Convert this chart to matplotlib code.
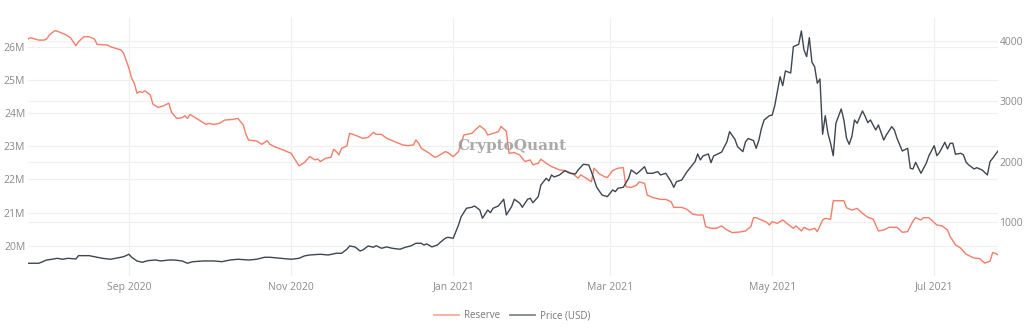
import matplotlib
matplotlib.use("Agg")
import matplotlib.pyplot as plt
from matplotlib.lines import Line2D
import pandas as pd

# ---------------- data ----------------
base_date = "2020-09-01"

reserve_days = [-38, -37, -34, -32, -31, -30, -28, -27, -25, -24,
                -22, -21, -20, -19, -17, -15, -13, -12, -8, -7,
                -3, -2, 0, 1, 2, 3, 4, 5, 6, 8,
                9, 11, 13, 15, 16, 18, 20, 21, 22, 23,
                25, 29, 30, 32, 34, 36, 39, 41, 43, 44,
                45, 48, 50, 52, 53, 55, 58, 61, 63, 64,
                66, 68, 70, 71, 72, 74, 76, 77, 78, 79,
                80, 82, 83, 85, 88, 90, 92, 93, 95, 97,
                100, 103, 105, 107, 108, 109, 110, 113, 115, 116,
                119, 120, 122, 124, 126, 129, 132, 134, 135, 137,
                139, 140, 142, 143, 145, 147, 149, 151, 152, 154,
                155, 157, 159, 162, 164, 167, 169, 170, 172, 174,
                175, 177, 179, 180, 182, 184, 186, 187, 189, 191,
                192, 194, 195, 197, 200, 202, 204, 205, 208, 210,
                212, 214, 216, 217, 219, 221, 223, 225, 227, 230,
                232, 234, 235, 236, 238, 240, 241, 242, 244, 246,
                248, 250, 251, 253, 254, 256, 258, 259, 261, 262,
                264, 265, 267, 269, 270, 272, 274, 276, 278, 280,
                282, 284, 286, 289, 291, 293, 295, 296, 298, 299,
                301, 304, 306, 308, 309, 311, 313, 315, 318, 320,
                322, 324, 325, 326, 327]

reserve_millions = [26.23, 26.27, 26.20, 26.20, 26.23, 26.35, 26.48, 26.47, 26.40, 26.37,
                    26.27, 26.15, 26.03, 26.15, 26.30, 26.30, 26.23, 26.07, 26.05, 26.00,
                    25.90, 25.80, 25.35, 25.05, 24.90, 24.60, 24.65, 24.62, 24.67, 24.55,
                    24.27, 24.17, 24.22, 24.30, 24.02, 23.84, 23.86, 23.92, 23.84, 23.96,
                    23.86, 23.66, 23.69, 23.66, 23.69, 23.79, 23.81, 23.84, 23.64, 23.36,
                    23.19, 23.16, 23.06, 23.17, 23.06, 22.98, 22.89, 22.79, 22.54, 22.41,
                    22.51, 22.69, 22.59, 22.62, 22.54, 22.64, 22.67, 22.91, 22.84, 22.74,
                    22.94, 23.01, 23.39, 23.34, 23.24, 23.27, 23.42, 23.36, 23.36, 23.24,
                    23.14, 23.04, 23.02, 23.04, 23.19, 23.09, 22.94, 22.79, 22.67, 22.69,
                    22.84, 22.81, 22.69, 22.84, 23.34, 23.39, 23.62, 23.49, 23.34, 23.39,
                    23.44, 23.60, 23.45, 22.79, 22.81, 22.74, 22.54, 22.59, 22.44, 22.49,
                    22.61, 22.49, 22.39, 22.29, 22.27, 22.17, 22.04, 22.14, 22.04, 21.93,
                    22.34, 22.17, 22.08, 22.06, 22.27, 22.34, 22.36, 21.78, 21.76, 21.83,
                    21.93, 21.88, 21.53, 21.46, 21.40, 21.40, 21.33, 21.16, 21.16, 21.10,
                    20.96, 20.93, 20.93, 20.58, 20.53, 20.53, 20.60, 20.48, 20.40, 20.42,
                    20.45, 20.58, 20.85, 20.85, 20.78, 20.71, 20.63, 20.73, 20.68, 20.78,
                    20.65, 20.53, 20.60, 20.45, 20.56, 20.48, 20.53, 20.43, 20.78, 20.83,
                    20.80, 21.36, 21.36, 21.36, 21.15, 21.08, 21.13, 20.98, 20.86, 20.81,
                    20.45, 20.48, 20.56, 20.56, 20.41, 20.43, 20.75, 20.85, 20.78, 20.85,
                    20.85, 20.63, 20.60, 20.48, 20.28, 20.03, 19.93, 19.75, 19.63, 19.62,
                    19.48, 19.54, 19.80, 19.78, 19.73]

price_days = [-38, -37, -34, -33, -31, -29, -27, -25, -23, -20,
              -19, -15, -12, -10, -7, -5, -2, 0, 1, 3,
              5, 7, 10, 12, 15, 17, 20, 22, 24, 28,
              32, 35, 38, 41, 45, 48, 51, 53, 57, 61,
              64, 66, 68, 72, 75, 78, 80, 82, 83, 85,
              87, 88, 90, 92, 93, 95, 97, 99, 102, 104,
              106, 108, 110, 111, 112, 114, 116, 117, 119, 120,
              122, 124, 125, 127, 129, 130, 132, 133, 135, 136,
              137, 139, 141, 142, 144, 145, 147, 148, 150, 151,
              152, 154, 155, 157, 158, 159, 160, 162, 164, 166,
              168, 169, 171, 173, 174, 175, 176, 178, 180, 182,
              183, 184, 186, 188, 189, 191, 192, 194, 195, 197,
              199, 200, 202, 204, 205, 206, 208, 210, 211, 213,
              214, 215, 216, 218, 219, 220, 222, 223, 225, 226,
              228, 229, 231, 232, 233, 235, 236, 237, 238, 239,
              241, 242, 243, 244, 245, 246, 247, 249, 250, 252,
              253, 254, 255, 256, 257, 258, 259, 260, 261, 262,
              263, 264, 265, 266, 268, 269, 270, 271, 272, 273,
              274, 276, 277, 278, 279, 281, 282, 284, 285, 287,
              288, 289, 291, 293, 294, 295, 296, 298, 300, 301,
              303, 304, 305, 307, 308, 309, 310, 311, 313, 314,
              315, 316, 318, 319, 321, 323, 324, 325, 327]

price_usd = [319, 319, 319, 335, 373, 385, 401, 385, 401, 390,
             445, 445, 418, 401, 385, 401, 428, 468, 418, 357,
             335, 362, 373, 357, 373, 373, 357, 319, 345, 357,
             357, 345, 373, 385, 373, 385, 418, 418, 401, 385,
             401, 440, 456, 468, 456, 484, 484, 551, 605, 590,
             522, 539, 605, 584, 610, 567, 590, 567, 551, 584,
             605, 650, 650, 620, 640, 590, 620, 660, 733, 749,
             733, 953, 1090, 1230, 1246, 1268, 1201, 1064, 1201, 1157,
             1230, 1268, 1379, 1119, 1260, 1379, 1315, 1246, 1379, 1395,
             1322, 1422, 1615, 1726, 1682, 1781, 1748, 1781, 1852, 1809,
             1798, 1864, 1958, 1947, 1836, 1710, 1577, 1450, 1422, 1533,
             1505, 1561, 1577, 1726, 1864, 1798, 1836, 1918, 1809, 1809,
             1836, 1781, 1809, 1670, 1577, 1670, 1698, 1836, 1892, 2002,
             2129, 2030, 2096, 2129, 1985, 2096, 2140, 2160, 2332, 2498,
             2372, 2250, 2167, 2332, 2385, 2350, 2223, 2355, 2554, 2692,
             2763, 2770, 2929, 3172, 3409, 3260, 3503, 3470, 3906, 3945,
             4166, 3851, 3740, 4055, 3647, 3575, 3300, 3371, 2455, 2763,
             2472, 2306, 2100, 2637, 2874, 2692, 2389, 2289, 2417, 2692,
             2637, 2841, 2753, 2648, 2692, 2526, 2609, 2360, 2444, 2581,
             2526, 2389, 2178, 2223, 1892, 1880, 1991, 1809, 1975, 2100,
             2266, 2100, 2156, 2322, 2212, 2306, 2306, 2124, 2140, 2112,
             1991, 1947, 1880, 1902, 1864, 1781, 2002, 2058, 2178]

month_ticks = ["2020-09-01", "2020-11-01", "2021-01-01",
               "2021-03-01", "2021-05-01", "2021-07-01"]
month_labels = ["Sep 2020", "Nov 2020", "Jan 2021", "Mar 2021", "May 2021", "Jul 2021"]
reserve_ticks = [20, 21, 22, 23, 24, 25, 26]
reserve_labels = ["20M", "21M", "22M", "23M", "24M", "25M", "26M"]
price_ticks = [1000, 2000, 3000, 4000]
price_labels = ["1000", "2000", "3000", "4000"]

series_names = ["Reserve", "Price (USD)"]

# ---------------- styling ----------------
reserve_color = "#F47D69"
price_color = "#3E4651"
grid_color = "#F0F0F0"
label_color = "#8A8A8A"
font = ["Open Sans", "DejaVu Sans"]

plt.rcParams["font.family"] = font

base = pd.Timestamp(base_date)
reserve_dates = base + pd.to_timedelta(reserve_days, unit="D")
price_dates = base + pd.to_timedelta(price_days, unit="D")

W, H = 1024, 329
fig = plt.figure(figsize=(W / 100, H / 100), dpi=100)
left_px, right_px, top_px, bottom_px = 28, 998, 17, 276
ax1 = fig.add_axes([left_px / W, 1 - bottom_px / H,
                    (right_px - left_px) / W, (bottom_px - top_px) / H])
ax2 = ax1.twinx()

reserve_lim = (19.093, 26.895)
price_lim = (108, 4397)

# gridlines (both y-axes), drawn underneath the lines
for t in reserve_ticks:
    f = (t - reserve_lim[0]) / (reserve_lim[1] - reserve_lim[0])
    ax1.plot([0, 1], [f, f], transform=ax1.transAxes, color=grid_color, lw=0.9, zorder=0)
for t in price_ticks:
    f = (t - price_lim[0]) / (price_lim[1] - price_lim[0])
    ax1.plot([0, 1], [f, f], transform=ax1.transAxes, color=grid_color, lw=0.9, zorder=0)
for t in month_ticks:
    ax1.axvline(pd.Timestamp(t), color=grid_color, lw=0.9, zorder=0)

ax1.plot(reserve_dates, reserve_millions, color=reserve_color, lw=1.0, zorder=3)
ax2.plot(price_dates, price_usd, color=price_color, lw=1.0, zorder=3)

ax1.set_xlim(reserve_dates.min(), reserve_dates.max())
ax1.set_ylim(*reserve_lim)
ax2.set_ylim(*price_lim)

ax1.set_xticks([pd.Timestamp(t) for t in month_ticks])
ax1.set_xticklabels(month_labels)
ax1.set_yticks(reserve_ticks)
ax1.set_yticklabels(reserve_labels)
ax2.set_yticks(price_ticks)
ax2.set_yticklabels(price_labels)

for ax in (ax1, ax2):
    for s in ax.spines.values():
        s.set_visible(False)
    ax.tick_params(length=0, labelsize=7.5, labelcolor=label_color)
ax1.tick_params(axis="y", pad=2)
ax2.tick_params(axis="y", pad=1)
ax1.tick_params(axis="x", pad=4)

# watermark
fig.text(0.5, 1 - 146 / H, "CryptoQuant", family="DejaVu Serif", weight="bold",
         fontsize=11, color="#9B9B9B", alpha=0.85, ha="center", va="center", zorder=10)

handles = [Line2D([], [], color=reserve_color, lw=1.3, alpha=0.65),
           Line2D([], [], color=price_color, lw=1.3, alpha=0.65)]
leg = fig.legend(handles, series_names, loc="center", bbox_to_anchor=(0.5, 1 - 316 / H),
                 ncol=2, frameon=False, fontsize=7, handlelength=2.6, handletextpad=0.5,
                 columnspacing=1.0)
for txt in leg.get_texts():
    txt.set_color("#777777")

fig.savefig("out.png", dpi=100)
